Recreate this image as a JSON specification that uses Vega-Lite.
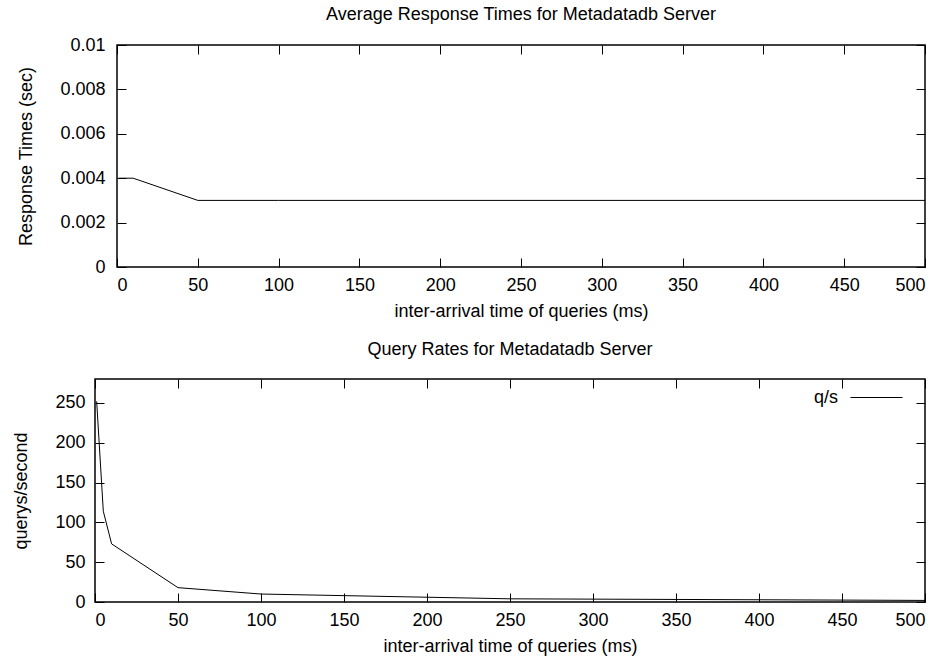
{
  "$schema": "https://vega.github.io/schema/vega-lite/v6.json",
  "background": "white",
  "padding": {"left": 12, "top": 5, "right": 5, "bottom": 5},
  "spacing": 19,
  "config": {
    "font": "Liberation Sans",
    "view": {"stroke": "black", "strokeWidth": 1.5},
    "axis": {
      "labelFont": "Liberation Sans",
      "labelFontSize": 18,
      "labelColor": "black",
      "titleFont": "Liberation Sans",
      "titleFontSize": 18,
      "titleFontWeight": "normal",
      "titleColor": "black",
      "domain": false,
      "grid": false,
      "tickColor": "black",
      "tickWidth": 1,
      "tickSize": -9,
      "labelPadding": 18
    },
    "title": {"font": "Liberation Sans", "fontSize": 18, "fontWeight": "normal", "color": "black", "anchor": "middle"},
    "legend": {"labelFont": "Liberation Sans", "labelFontSize": 18, "labelColor": "black"}
  },
  "datasets": {
    "d": [
      {"x": 1, "resp": 0.004, "qps": 252},
      {"x": 5, "resp": 0.004, "qps": 114},
      {"x": 10, "resp": 0.004, "qps": 73},
      {"x": 50, "resp": 0.003, "qps": 18},
      {"x": 100, "resp": 0.003, "qps": 10},
      {"x": 250, "resp": 0.003, "qps": 4},
      {"x": 500, "resp": 0.003, "qps": 2}
    ]
  },
  "resolve": {"scale": {"color": "independent"}, "legend": {"color": "independent"}},
  "vconcat": [
    {
      "bounds": "flush",
      "spacing": 16,
      "hconcat": [
        {
          "width": 6,
          "height": 222,
          "view": {"stroke": null},
          "data": {"values": []},
          "mark": {"type": "point", "opacity": 0},
          "encoding": {}
        },
        {
          "width": 808,
          "height": 222,
          "title": {"text": "Average Response Times for Metadatadb Server", "offset": 12},
          "data": {"name": "d"},
          "layer": [
            {
              "mark": {"type": "line", "color": "black", "strokeWidth": 1},
              "encoding": {
                "x": {"field": "x", "type": "quantitative", "scale": {"domain": [0, 500]},
                      "axis": {"title": "inter-arrival time of queries (ms)", "values": [0, 50, 100, 150, 200, 250, 300, 350, 400, 450, 500], "titlePadding": 8}},
                "y": {"field": "resp", "type": "quantitative", "scale": {"domain": [0, 0.01]},
                      "axis": {"title": "Response Times (sec)", "values": [0, 0.002, 0.004, 0.006, 0.008, 0.01], "format": "~g", "labelPadding": 21, "titlePadding": 24}}
              }
            },
            {
              "mark": {"type": "line", "color": "black", "strokeWidth": 1, "strokeOpacity": 0},
              "encoding": {
                "x": {"field": "x", "type": "quantitative", "scale": {"domain": [0, 500]},
                      "axis": {"orient": "top", "title": null, "labels": false, "values": [0, 50, 100, 150, 200, 250, 300, 350, 400, 450, 500]}},
                "y": {"field": "resp", "type": "quantitative", "scale": {"domain": [0, 0.01]},
                      "axis": {"orient": "right", "title": null, "labels": false, "values": [0, 0.002, 0.004, 0.006, 0.008, 0.01]}}
              }
            }
          ],
          "resolve": {"axis": {"x": "independent", "y": "independent"}}
        }
      ]
    },
    {
      "width": 830,
      "height": 223,
      "title": {"text": "Query Rates for Metadatadb Server", "offset": 12},
      "data": {"name": "d"},
      "layer": [
        {
          "mark": {"type": "line", "strokeWidth": 1},
          "encoding": {
            "x": {"field": "x", "type": "quantitative", "scale": {"domain": [0, 500]},
                  "axis": {"title": "inter-arrival time of queries (ms)", "values": [0, 50, 100, 150, 200, 250, 300, 350, 400, 450, 500], "titlePadding": 8}},
            "y": {"field": "qps", "type": "quantitative", "scale": {"domain": [0, 280]},
                  "axis": {"title": "querys/second", "values": [0, 50, 100, 150, 200, 250], "labelPadding": 19, "titlePadding": 24}},
            "color": {"datum": "q/s", "type": "nominal", "scale": {"range": ["black"]},
                      "legend": {"title": null, "orient": "none", "legendX": 755, "legendY": -8, "symbolType": "stroke", "symbolSize": 2704, "symbolStrokeWidth": 1, "labelAlign": "right", "labelOffset": -65, "padding": 0}}
          }
        },
        {
          "mark": {"type": "line", "color": "black", "strokeWidth": 1, "strokeOpacity": 0},
          "encoding": {
            "x": {"field": "x", "type": "quantitative", "scale": {"domain": [0, 500]},
                  "axis": {"orient": "top", "title": null, "labels": false, "values": [0, 50, 100, 150, 200, 250, 300, 350, 400, 450, 500]}},
            "y": {"field": "qps", "type": "quantitative", "scale": {"domain": [0, 280]},
                  "axis": {"orient": "right", "title": null, "labels": false, "values": [0, 50, 100, 150, 200, 250]}}
          }
        }
      ],
      "resolve": {"axis": {"x": "independent", "y": "independent"}}
    }
  ]
}
